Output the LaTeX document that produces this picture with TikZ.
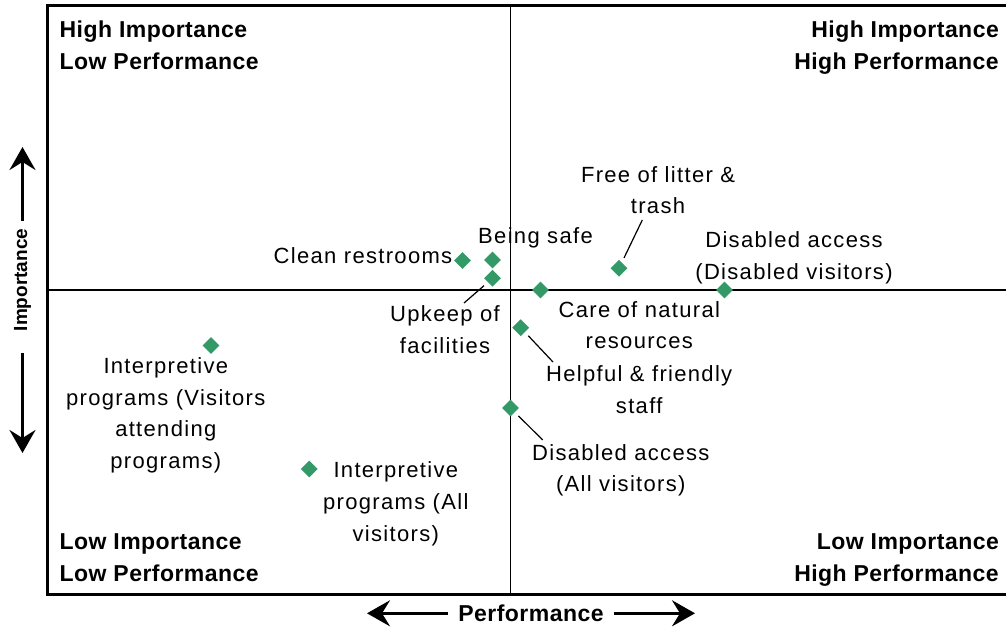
\documentclass[tikz,border=0pt]{standalone}
\usepackage{fontspec}
\setmainfont{Liberation Sans}
\newfontfamily\lblfont{Liberation Sans}[LetterSpace=6]
\newfontfamily\hdfont{Liberation Sans}[LetterSpace=2]
\usetikzlibrary{shapes.geometric,arrows.meta}
\definecolor{ptgreen}{HTML}{339966}

\begin{document}
\begin{tikzpicture}[x=1pt,y=-1pt,
  pt/.style={diamond,fill=ptgreen,inner sep=0pt,minimum size=17pt},
  lbl/.style={align=center,inner sep=0pt,font=\lblfont\fontsize{22}{31.7}\selectfont},
  quad/.style={inner sep=0pt,font=\hdfont\bfseries\fontsize{23}{32.5}\selectfont},
  leader/.style={line width=1.2pt,shorten <=5pt},
  axarrow/.style={line width=3pt,-{Stealth[length=23pt,width=26pt,inset=8pt]}}]
\useasboundingbox (0,0) rectangle (1006,631);
% frame and quadrants
\draw [line width=3pt] (1006,6)--(47.5,6)--(47.5,594.5)--(1006,594.5);
\draw [line width=1.6pt] (510.5,6)--(510.5,594.5);
\draw [line width=1.6pt] (47.5,290)--(1006,290);
\node [quad,anchor=west,align=left] (hilo) at (59.5,45.2) {High Importance\\Low Performance};
\node [quad,anchor=east,align=right] (hihi) at (999,47.7) {High Importance\\High Performance};
\node [quad,anchor=west,align=left] (lolo) at (59.5,557.5) {Low Importance\\Low Performance};
\node [quad,anchor=east,align=right] (lohi) at (999,559.8) {Low Importance\\High Performance};
% axes
\node [inner sep=0pt,rotate=90,font=\bfseries\fontsize{19}{22}\selectfont] (imp) at (22.5,280) {Importance};
\coordinate (impTop) at (22.5,147);
\coordinate (impBot) at (22.5,453);
\draw [axarrow,shorten <=8pt] (imp.east)--(impTop);
\draw [axarrow,shorten <=22pt] (imp.west)--(impBot);
\node [inner sep=0pt,font=\hdfont\bfseries\fontsize{23}{26}\selectfont] (perf) at (531,613.3) {Performance};
\coordinate (perfL) at (367,613.3);
\coordinate (perfR) at (695,613.3);
\draw [axarrow,shorten <=10pt] (perf.west)--(perfL);
\draw [axarrow,shorten <=10pt] (perf.east)--(perfR);
% points
\node [pt] (dClean) at (462.5,260.5) {};
\node [pt] (dSafe) at (492.5,260) {};
\node [pt] (dUpkeep) at (492.5,278.3) {};
\node [pt] (dCare) at (540.5,290) {};
\node [pt] (dFree) at (619,268.3) {};
\node [pt] (dDisV) at (724.5,290) {};
\node [pt] (dHelp) at (520.7,327.7) {};
\node [pt] (dDisA) at (510.5,408) {};
\node [pt] (dIntV) at (211,345.5) {};
\node [pt] (dIntA) at (309.3,469) {};
% labels
\node [lbl] (lFree) at (658,190) {Free of litter \&\\trash};
\node [lbl] (lSafe) at (535.5,237.8) {Being safe};
\node [lbl] (lClean) at (363,256) {Clean restrooms};
\node [lbl] (lDisV) at (794,257.8) {Disabled access\\(Disabled visitors)};
\node [lbl] (lUpkeep) at (445,329.3) {Upkeep of\\facilities};
\node [lbl] (lCare) at (639.3,325.2) {Care of natural\\resources};
\node [lbl] (lHelp) at (639.2,389.5) {Helpful \& friendly\\staff};
\node [lbl] (lDisA) at (620.8,470.3) {Disabled access\\(All visitors)};
\node [lbl] (lIntV) at (165.8,415.3) {Interpretive\\programs (Visitors\\attending\\programs)};
\node [lbl] (lIntA) at (395.8,503.7) {Interpretive\\programs (All\\visitors)};
% leader lines
\coordinate (cFree) at (642.3,220);
\coordinate (cUpkeep) at (464,303);
\coordinate (cHelp) at (553,362);
\coordinate (cDisA) at (542.7,440);
\draw [leader] (dFree)--(cFree);
\draw [leader] (dUpkeep)--(cUpkeep);
\draw [leader] (dHelp)--(cHelp);
\draw [leader] (dDisA)--(cDisA);
\end{tikzpicture}
\end{document}
